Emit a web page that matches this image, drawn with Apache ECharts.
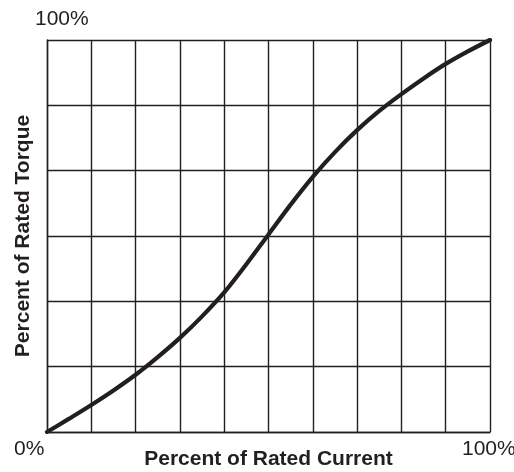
<!DOCTYPE html>
<html>
<head>
<meta charset="utf-8">
<script src="https://cdn.jsdelivr.net/npm/echarts@6/dist/echarts.min.js"></script>
<style>html,body{margin:0;padding:0;background:#fff;}#c{width:514px;height:472px;}</style>
</head>
<body>
<div id="c"></div>
<script>
const currentPct = [0, 5, 10, 15, 20, 25, 30, 35, 40, 45, 50, 55, 60, 65, 70, 75, 80, 85, 90, 95, 100];
const torquePct  = [0, 3.4, 6.9, 10.6, 14.6, 19.1, 24.0, 29.5, 35.6, 42.8, 50.4, 58.0, 65.1, 71.4, 77.0, 81.9, 86.2, 90.2, 93.9, 97.1, 100];
const xTitle = "Percent of Rated Current";
const yTitle = "Percent of Rated Torque";
const cornerLabels = ["0%", "100%", "100%"];

const ink = "#231f20";
const font = "Liberation Sans, Arial, sans-serif";
const chart = echarts.init(document.getElementById('c'));
chart.setOption({
  animation: false,
  grid: {left: 47, right: 24, top: 40, bottom: 40, containLabel: false, outerBoundsMode: 'none'},
  xAxis: {
    type: 'value', min: 0, max: 100, interval: 10,
    axisLine: {show: true, onZero: false, lineStyle: {color: ink, width: 1.4}},
    axisTick: {show: false}, axisLabel: {show: false},
    splitLine: {show: true, lineStyle: {color: ink, width: 1.4}},
    name: xTitle, nameLocation: 'middle', nameGap: 17,
    nameTextStyle: {color: ink, fontSize: 21, fontWeight: 'bold', fontFamily: font, verticalAlign: 'top'}
  },
  yAxis: {
    type: 'value', min: 0, max: 100, interval: 100/6,
    axisLine: {show: true, onZero: false, lineStyle: {color: ink, width: 1.4}},
    axisTick: {show: false}, axisLabel: {show: false},
    splitLine: {show: true, lineStyle: {color: ink, width: 1.4}},
    name: yTitle, nameLocation: 'middle', nameGap: 13,
    nameTextStyle: {color: ink, fontSize: 21, fontWeight: 'bold', fontFamily: font}
  },
  graphic: [
    {type: 'text', left: 35, top: 9, style: {text: cornerLabels[2], fontSize: 21, fill: ink, fontFamily: font}},
    {type: 'text', left: 14, top: 439, style: {text: cornerLabels[0], fontSize: 21, fill: ink, fontFamily: font}},
    {type: 'text', left: 462, top: 439, style: {text: cornerLabels[1], fontSize: 21, fill: ink, fontFamily: font}}
  ],
  series: [{
    type: 'line', smooth: 0.3, showSymbol: false,
    data: currentPct.map((x, i) => [x, torquePct[i]]),
    lineStyle: {color: ink, width: 4.2, cap: 'round'}
  }]
});
</script>
</body>
</html>
